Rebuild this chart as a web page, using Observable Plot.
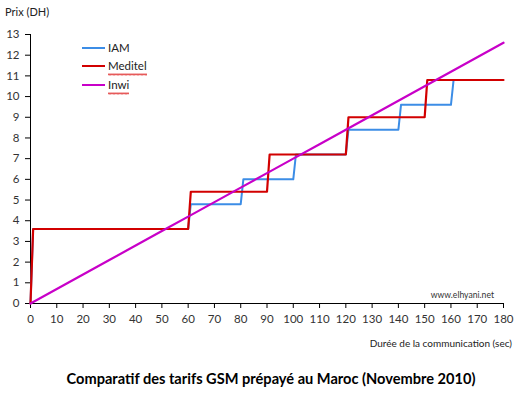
<!DOCTYPE html>
<html><head><meta charset="utf-8">
<script src="https://cdn.jsdelivr.net/npm/d3@7"></script>
<script src="https://cdn.jsdelivr.net/npm/@observablehq/plot@0.6"></script>
<style>
body{margin:0;background:#fff;font-family:Lato,"Liberation Sans",sans-serif;}
#wrap{position:relative;width:521px;height:396px;overflow:hidden;}
#wrap svg{position:absolute;left:0;top:0;}
.t{position:absolute;white-space:nowrap;color:#222;}
.leg{position:absolute;left:82px;font-size:11.5px;color:#222;}
.leg span.bar{position:absolute;left:0;width:23px;height:2px;}
.leg span.lab{position:absolute;left:26px;top:-8px;line-height:15px;white-space:nowrap;}
.leg span.wave{position:absolute;left:26px;top:7px;height:3px;
  background-image:url("data:image/svg+xml,%3Csvg xmlns='http://www.w3.org/2000/svg' width='4' height='3'%3E%3Cpath d='M0 2.5 L1 0.5 L2 2.5 L3 0.5 L4 2.5' fill='none' stroke='%23e03030' stroke-width='0.8'/%3E%3C/svg%3E");
  background-repeat:repeat-x;}
</style></head>
<body><div id="wrap"></div>
<script>
const iamTime  = [0, 1, 60, 61, 80, 81, 100, 101, 120, 121, 140, 141, 160, 161];
const iamPrice = [0, 3.6, 3.6, 4.8, 4.8, 6.0, 6.0, 7.2, 7.2, 8.4, 8.4, 9.6, 9.6, 10.8];
const meditelTime  = [0, 1, 60, 61, 90, 91, 120, 121, 150, 151, 180];
const meditelPrice = [0, 3.6, 3.6, 5.4, 5.4, 7.2, 7.2, 9.0, 9.0, 10.8, 10.8];
const inwiTime  = [0, 10, 20, 30, 40, 50, 60, 70, 80, 90, 100, 110, 120, 130, 140, 150, 160, 170, 180];
const inwiPrice = [0, 0.7, 1.4, 2.1, 2.8, 3.5, 4.2, 4.9, 5.6, 6.3, 7.0, 7.7, 8.4, 9.1, 9.8, 10.5, 11.2, 11.9, 12.6];
const xTicks = d3.range(0, 181, 10);
const yTicks = d3.range(0, 14, 1);
const seriesNames = ["IAM", "Meditel", "Inwi"];
const seriesColors = ["#3c8de6", "#d20000", "#c800c8"];

const toRows = (ts, ps) => ts.map((t, i) => ({t, p: ps[i]}));
const iam = toRows(iamTime, iamPrice);
const med = toRows(meditelTime, meditelPrice);
const inwi = toRows(inwiTime, inwiPrice);

const chart = Plot.plot({
  width: 521, height: 396,
  marginLeft: 30, marginRight: 18, marginTop: 34, marginBottom: 93,
  style: {fontFamily: "Lato, 'Liberation Sans', sans-serif", fontSize: "11.5px", background: "white", overflow: "visible"},
  x: {domain: [0, 180]},
  y: {domain: [0, 13]},
  marks: [
    Plot.axisX({ticks: xTicks, tickSize: 5, tickPadding: 6, label: null, color: "#333", stroke: "#000"}),
    Plot.axisY({ticks: yTicks, tickSize: 5, tickPadding: 6, label: null, color: "#333", stroke: "#000"}),
    Plot.ruleY([0], {stroke: "#000"}),
    Plot.ruleX([0], {stroke: "#000"}),
    Plot.line(iam, {x: "t", y: "p", stroke: seriesColors[0], strokeWidth: 2}),
    Plot.line(med, {x: "t", y: "p", stroke: seriesColors[1], strokeWidth: 2.2}),
    Plot.line(inwi, {x: "t", y: "p", stroke: seriesColors[2], strokeWidth: 2.2})
  ]
});
const wrap = document.getElementById("wrap");
wrap.appendChild(chart);

function addText(txt, css) {
  const d = document.createElement("div");
  d.className = "t";
  d.textContent = txt;
  Object.assign(d.style, css);
  wrap.appendChild(d);
  return d;
}
addText("Prix (DH)", {left: "5px", top: "5px", fontSize: "11px"});
addText("Durée de la communication (sec)", {right: "9px", top: "337px", fontSize: "10px"});
addText("www.elhyani.net", {right: "27px", top: "290px", fontSize: "8.6px", color: "#333"});
addText("Comparatif des tarifs GSM prépayé au Maroc (Novembre 2010)", {left: "0", width: "542px", textAlign: "center", top: "370px", fontSize: "14.6px", fontWeight: "bold", color: "#000"});

const legY = [48, 66, 85];
seriesNames.forEach((n, i) => {
  const g = document.createElement("div");
  g.className = "leg";
  g.style.top = legY[i] + "px";
  const b = document.createElement("span");
  b.className = "bar"; b.style.background = seriesColors[i]; b.style.top = "-1px";
  const l = document.createElement("span");
  l.className = "lab"; l.textContent = n;
  g.appendChild(b); g.appendChild(l);
  wrap.appendChild(g);
  if (i > 0) {
    const w = document.createElement("span");
    w.className = "wave";
    w.style.width = Math.round(l.getBoundingClientRect().width) + "px";
    g.appendChild(w);
  }
});
</script></body></html>
